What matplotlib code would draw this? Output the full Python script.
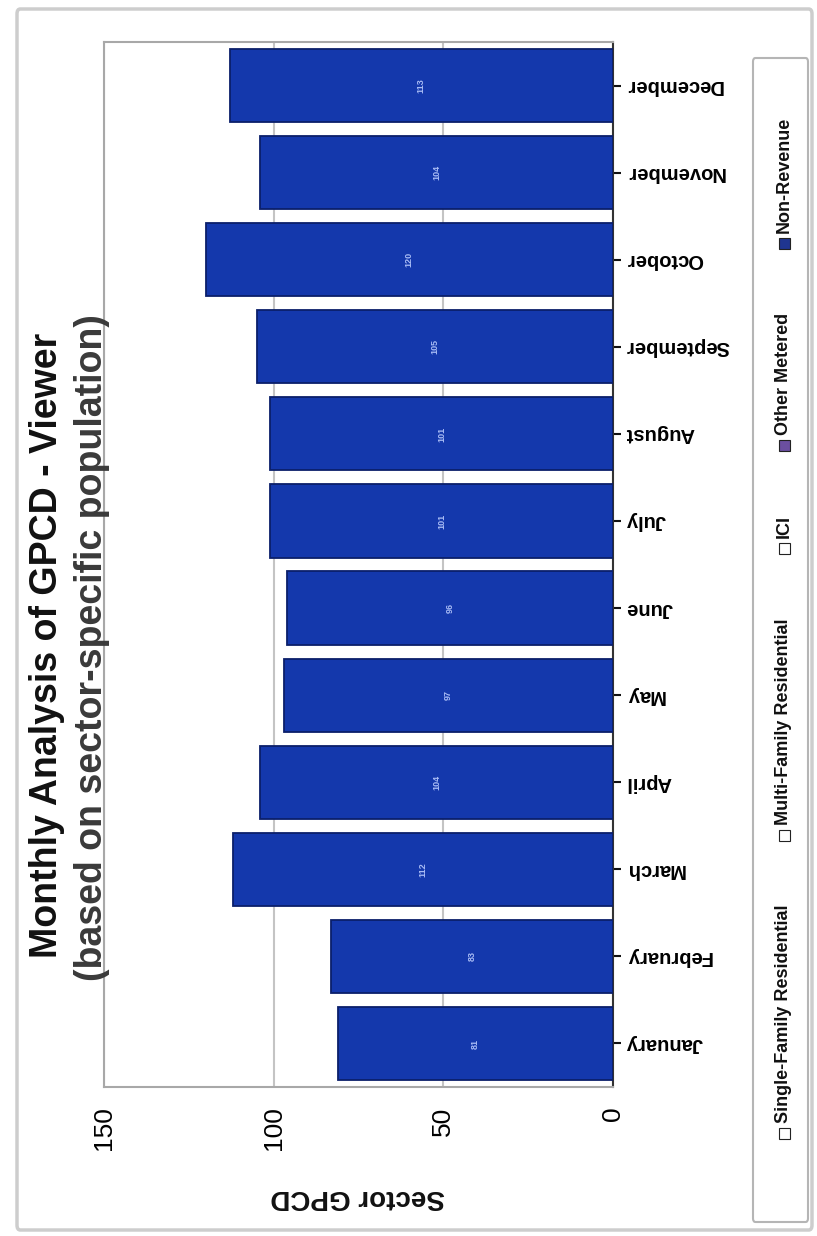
import numpy as np
import matplotlib
matplotlib.use("Agg")
import matplotlib.pyplot as plt
from matplotlib.patches import FancyBboxPatch, Rectangle

plt.rcParams["font.family"] = ["Liberation Sans", "DejaVu Sans"]

# ---- data -------------------------------------------------------------
months = ["January", "February", "March", "April", "May", "June",
          "July", "August", "September", "October", "November", "December"]
gpcd = [81, 83, 112, 104, 97, 96, 101, 101, 105, 120, 104, 113]
value_ticks = [0, 50, 100, 150]
legend_labels = ["Single-Family Residential", "Multi-Family Residential",
                 "ICI", "Other Metered", "Non-Revenue"]
legend_colors = ["white", "white", "white", "#6b4fa0", "#1f3590"]

title = "Monthly Analysis of GPCD - Viewer"
subtitle = "(based on sector-specific population)"
value_label = "Sector GPCD"

# ---- figure (pixel helpers, y measured from the top) -------------------
W, H = 817, 1236
fig = plt.figure(figsize=(W / 100, H / 100), dpi=100)
fig.patch.set_facecolor("white")


def fx(px):
    return px / W


def fy(py):
    return 1 - py / H


# outer chart frame
fig.add_artist(FancyBboxPatch((fx(17), fy(1230)), fx(795), 1221 / H,
                              boxstyle="round,pad=0,rounding_size=0.004",
                              transform=fig.transFigure, facecolor="none",
                              edgecolor="#cdcdcd", lw=2.5))

# ---- plot area: columns turned on their side --------------------------
ax = fig.add_axes([fx(104), fy(1087), fx(613) - fx(104), fy(42) - fy(1087)])
pos = np.arange(len(months))
bars = ax.barh(pos, gpcd, height=0.84, color="#1438ac",
               edgecolor="#0b1f6a", linewidth=1.3, zorder=3)
ax.set_xlim(150, 0)
ax.set_ylim(-0.5, len(months) - 0.5)

ax.bar_label(bars, labels=[str(v) for v in gpcd], label_type="center",
             rotation=90, fontsize=6.5, color="#a9bcf5", fontweight="bold")

ax.set_xticks(value_ticks)
ax.set_xticklabels([str(v) for v in value_ticks], rotation=90,
                   fontsize=19, va="top", ha="center")
ax.tick_params(axis="x", length=0, pad=14)

ax.yaxis.tick_right()
ax.set_yticks(pos)
ax.set_yticklabels(months, rotation=180, ha="left", va="center",
                   fontsize=14.5, fontweight="bold")
ax.tick_params(axis="y", length=6, width=1.5, color="#111111",
               direction="out", pad=3)

ax.xaxis.grid(True, color="#c4c4c4", lw=1.5)
ax.set_axisbelow(True)
for side in ("left", "top", "bottom"):
    ax.spines[side].set_color("#a8a8a8")
    ax.spines[side].set_linewidth(1.5)
ax.spines["right"].set_color("#333333")
ax.spines["right"].set_linewidth(1.5)

# ---- titles -----------------------------------------------------------
fig.text(fx(47), fy(645), title, rotation=90, ha="center", va="center",
         fontsize=27, fontweight="bold", color="#111111")
fig.text(fx(92), fy(648), subtitle, rotation=90, ha="center", va="center",
         fontsize=27, fontweight="bold", color="#3a3a3a")
fig.text(fx(358), fy(1197), value_label, rotation=180, ha="center",
         va="center", fontsize=20, fontweight="bold", color="#111111")

# ---- legend (entries stacked bottom-to-top) ---------------------------
fig.add_artist(FancyBboxPatch((fx(753), fy(1222)), fx(55), 1164 / H,
                              boxstyle="round,pad=0,rounding_size=0.003",
                              transform=fig.transFigure, facecolor="white",
                              edgecolor="#b5b5b5", lw=1.5))

fig.canvas.draw()
renderer = fig.canvas.get_renderer()
lx = 784
cursor = 117
sq = 11
for label, color in reversed(list(zip(legend_labels, legend_colors))):
    t = fig.text(fx(lx), fy(cursor), label, rotation=90, ha="center",
                 va="top", fontsize=13, fontweight="bold", color="#111111")
    bb = t.get_window_extent(renderer)
    sq_top = (H - bb.y0) + 5
    fig.add_artist(Rectangle((fx(lx - sq / 2), fy(sq_top + sq)), fx(sq), sq / H,
                             transform=fig.transFigure, facecolor=color,
                             edgecolor="#222222", lw=0.8))
    cursor = sq_top + sq + 64

fig.savefig("out.png", dpi=100, facecolor="white")
